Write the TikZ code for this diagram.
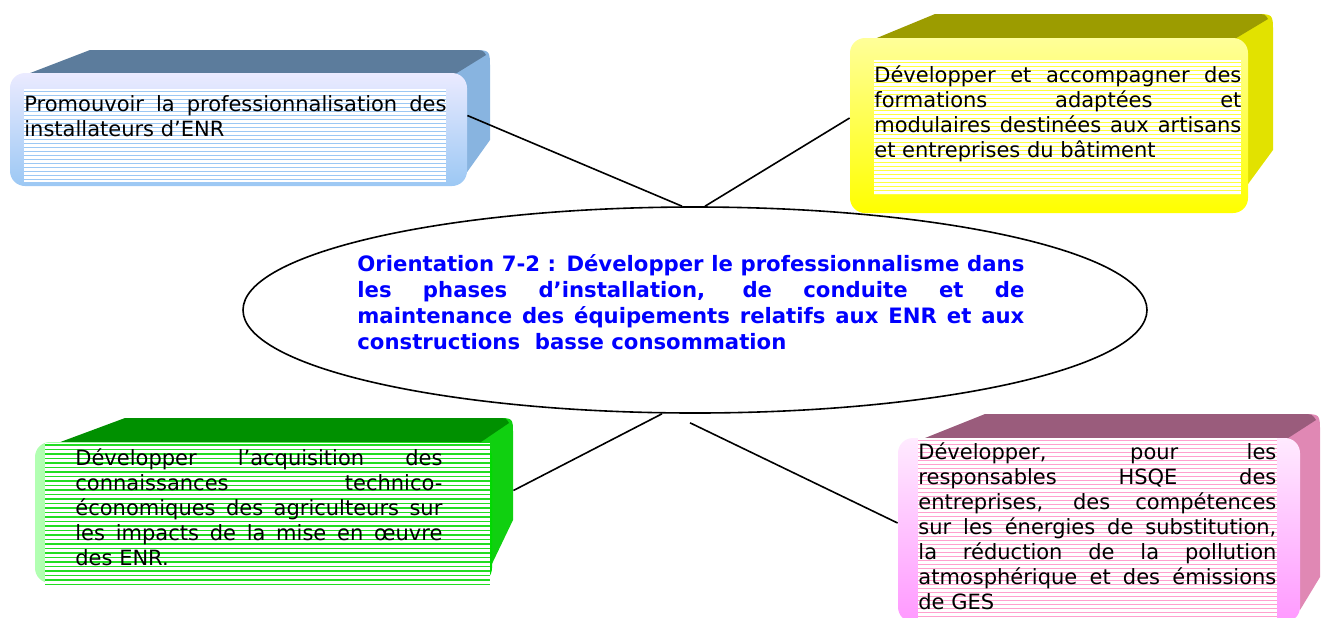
\documentclass[tikz,border=0pt]{standalone}
\usepackage{fontspec}
\setmainfont{DejaVu Sans}
\usepackage{xcolor}
\usetikzlibrary{positioning,shapes.geometric}
\hyphenpenalty=10000
\exhyphenpenalty=10000

\definecolor{bluetop}{HTML}{5C7C9C}
\definecolor{blueside}{HTML}{88B4E0}
\definecolor{bluerule}{HTML}{9CC8F4}
\definecolor{yellowtop}{HTML}{9C9C00}
\definecolor{yellowside}{HTML}{E2E200}
\definecolor{yellowrule}{HTML}{FFFF3C}
\definecolor{greentop}{HTML}{009000}
\definecolor{greenside}{HTML}{10D010}
\definecolor{greenrule}{HTML}{22DD22}
\definecolor{pinktop}{HTML}{9A5C7C}
\definecolor{pinkside}{HTML}{E088B4}
\definecolor{pinkrule}{HTML}{FFA0CE}
\definecolor{orientblue}{HTML}{0000FF}

\begin{document}
\begin{tikzpicture}[x=0.5pt, y=-0.5pt,
  every node/.style={font=\fontsize{10.5}{12.5}\selectfont, inner sep=0pt},
  txt/.style={align=justify, anchor=north west},
  face/.style={rounded corners=7.5pt},
  bluefront/.style={face, top color=blue!8!white, bottom color=bluerule},
  yellowfront/.style={face, top color=yellow!40!white, bottom color=yellow},
  greenfront/.style={face, left color=green!30!white, right color=green!85!black},
  pinkfront/.style={face, top color=magenta!8!white, bottom color=magenta!40!white},
  rule/.style={line width=0.5pt},
  conn/.style={line width=0.8pt}
]
\useasboundingbox (0,0) rectangle (1321,617);

% blue box
\fill[blueside] (452,76) -- (472,50) .. controls (490,50) .. (490,68) -- (490,140) -- (460,182) -- cycle;
\fill[bluetop] (25,75) -- (90,50) -- (472,50) .. controls (483,50) .. (486,55) -- (452,76) -- cycle;
\node[bluefront, minimum width=228.5pt, minimum height=56.5pt] (promobox) at (238.5,129.5) {};
\fill[white] (24,89) rectangle (446,182);
\foreach \y in {91,95,...,181} \draw[rule, bluerule] (24,\y) -- (446,\y);
\node[txt, text width=211pt] (promo) at (24,95)
  {Promouvoir la professionnalisation des\linebreak installateurs d’ENR};

% yellow box
\fill[yellowside] (1233,40) -- (1255,14) .. controls (1273,14) .. (1273,32) -- (1273,150) -- (1240,195) -- cycle;
\fill[yellowtop] (872,40) -- (935,14) -- (1255,14) .. controls (1265,14) .. (1268,19) -- (1233,40) -- cycle;
\node[yellowfront, minimum width=199pt, minimum height=87.5pt] (formbox) at (1049,125.5) {};
\fill[white] (874,60) rectangle (1241,195);
\foreach \y in {62,66,...,194} \draw[rule, yellowrule] (874,\y) -- (1241,\y);
\node[txt, text width=183.5pt] (form) at (874,65)
  {Développer et accompagner des\linebreak formations adaptées et\linebreak
   modulaires destinées aux artisans\linebreak et entreprises du bâtiment};

% green box
\fill[greenside] (478,444) -- (497,418) .. controls (513,418) .. (513,434) -- (513,520) -- (490,568) -- cycle;
\fill[greentop] (55,444) -- (125,418) -- (497,418) .. controls (506,418) .. (509,423) -- (478,444) -- cycle;
\node[greenfront, minimum width=228.5pt, minimum height=70.5pt] (acqbox) at (263.5,512.5) {};
\fill[white] (45,443) rectangle (490,585);
\foreach \y in {445,449.5,...,585} \draw[line width=0.8pt, greenrule] (45,\y) -- (490,\y);
\node[txt, text width=183.5pt] (acq) at (75,448)
  {Développer l’acquisition des\linebreak connaissances technico-\linebreak
   économiques des agriculteurs sur\linebreak les impacts de la mise en œuvre\linebreak des ENR.};

% pink box
\fill[pinkside] (1285,440) -- (1302,414) .. controls (1320,414) .. (1320,432) -- (1320,577) -- (1300,610) -- cycle;
\fill[pinktop] (920,440) -- (985,414) -- (1302,414) .. controls (1312,414) .. (1316,420) -- (1285,440) -- cycle;
\node[pinkfront, minimum width=201pt, minimum height=92pt] (hsqebox) at (1099,530) {};
\fill[white] (918,438) rectangle (1277,630);
\foreach \y in {440,444,...,630} \draw[rule, pinkrule] (918,\y) -- (1277,\y);
\node[txt, text width=179pt] (hsqe) at (918,442)
  {Développer, pour les\linebreak responsables HSQE des\linebreak
   entreprises, des compétences\linebreak sur les énergies de substitution,\linebreak
   la réduction de la pollution\linebreak atmosphérique et des émissions\linebreak de GES};

% centre
\node[draw, ellipse, line width=0.8pt, minimum width=452pt, minimum height=103pt] (orient) at (695,310) {};
\node[txt, text width=333.5pt, text=orientblue, font=\fontsize{10.6}{13}\selectfont\bfseries] (orienttxt) at (357,254)
  {Orientation 7-2 : Développer le professionnalisme dans\linebreak
   les phases d’installation, de conduite et de\linebreak
   maintenance des équipements relatifs aux ENR et aux\linebreak
   constructions\ \ basse consommation};

% connectors
\draw[conn] ([yshift=7pt]promobox.east) -- ([xshift=-6.5pt]orient.north);
\draw[conn] ([yshift=3.75pt]formbox.west) -- ([xshift=5pt]orient.north);
\draw[conn] ([xshift=10.5pt,yshift=11pt]acqbox.east) -- ([xshift=-16.5pt]orient.south);
\draw[conn] ([yshift=3.5pt]hsqebox.west) -- ([xshift=-2.5pt,yshift=-4.5pt]orient.south);
\end{tikzpicture}
\end{document}
